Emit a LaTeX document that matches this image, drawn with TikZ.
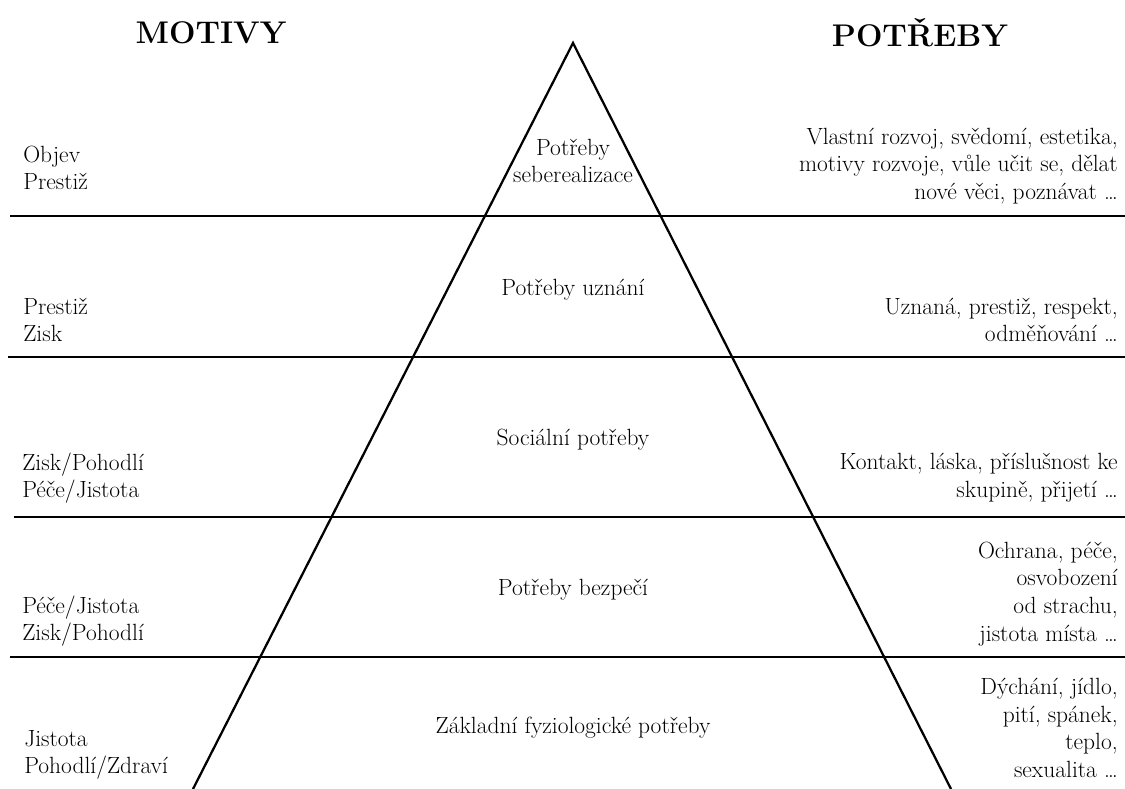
\documentclass[tikz,border=0pt]{standalone}
\usepackage{fontspec}
\begin{document}
\begin{tikzpicture}[x=0.75pt,y=-0.75pt,
  txt/.style={inner sep=0pt,font=\fontsize{17.6}{20.8}\selectfont},
  lefttxt/.style={txt,anchor=west,align=left},
  righttxt/.style={txt,anchor=east,align=right},
  midtxt/.style={txt,anchor=center,align=center},
  head/.style={inner sep=0pt,font=\fontsize{23.5}{30}\selectfont\bfseries},
  level/.style={line width=1.1pt},
  pyr/.style={line width=1.7pt,line join=miter}]
\useasboundingbox (0,0) rectangle (1125,789);

% pyramid
\coordinate (apex) at (573,43);
\coordinate (bl) at (193,789);
\coordinate (br) at (951,789);
\draw[pyr] (bl) -- (apex) -- (br);

% level lines
\coordinate (l1a) at (10,216);  \coordinate (l1b) at (1125,216);
\coordinate (l2a) at (8,357);   \coordinate (l2b) at (1125,357);
\coordinate (l3a) at (14,517);  \coordinate (l3b) at (1125,517);
\coordinate (l4a) at (10,657);  \coordinate (l4b) at (1125,657);
\draw[level] (l1a) -- (l1b);
\draw[level] (l2a) -- (l2b);
\draw[level] (l3a) -- (l3b);
\draw[level] (l4a) -- (l4b);

% headers
\node[head] (hm) at (211,33) {MOTIVY};
\node[head] (hp) at (920,33) {POTŘEBY};

% centre labels
\node[midtxt] (c1) at (573,161) {Potřeby\\seberealizace};
\node[midtxt] (c2) at (573,290) {Potřeby uznání};
\node[midtxt] (c3) at (573,440) {Sociální potřeby};
\node[midtxt] (c4) at (573,590) {Potřeby bezpečí};
\node[midtxt] (c5) at (573,728) {Základní fyziologické potřeby};

% left labels
\node[lefttxt] (m1) at (23,168) {Objev\\Prestiž};
\node[lefttxt] (m2) at (23,320) {Prestiž\\Zisk};
\node[lefttxt] (m3) at (22,478) {Zisk/Pohodlí\\Péče/Jistota};
\node[lefttxt] (m4) at (22,621) {Péče/Jistota\\Zisk/Pohodlí};
\node[lefttxt] (m5) at (24,755) {Jistota\\Pohodlí/Zdraví};

% right labels
\node[righttxt] (p1) at (1118,166) {Vlastní rozvoj, svědomí, estetika,\\motivy rozvoje, vůle učit se, dělat\\nové věci, poznávat …};
\node[righttxt] (p2) at (1118,320) {Uznaná, prestiž, respekt,\\odměňování …};
\node[righttxt] (p3) at (1118,478) {Kontakt, láska, příslušnost ke\\skupině, přijetí …};
\node[righttxt] (p4) at (1118,594) {Ochrana, péče,\\osvobození\\od strachu,\\jistota místa …};
\node[righttxt] (p5) at (1118,728) {Dýchání, jídlo,\\pití, spánek,\\teplo,\\sexualita …};
\end{tikzpicture}
\end{document}
